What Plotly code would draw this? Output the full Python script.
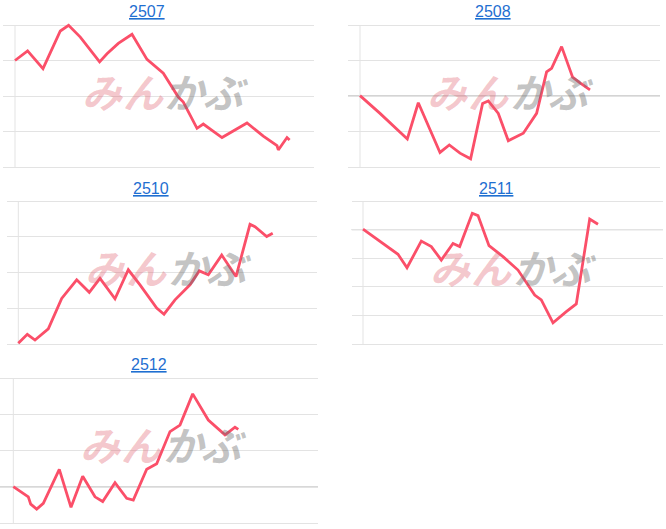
import plotly.graph_objects as go

W, H = 666, 529

# ---- data (time offset from session start, price level in grid units) ----
names = ["2507", "2508", "2510", "2511", "2512"]

t_2507 = [0, 12.6, 28, 45.3, 53.6, 65.3, 84.6, 92, 103.3, 117, 132, 148.3, 163.3, 168.3,
          182, 188.3, 207, 232, 248.3, 262, 263.3, 272, 274.6]
v_2507 = [3.0, 3.27, 2.77, 3.83, 3.99, 3.66, 2.96, 3.19, 3.48, 3.74, 3.03, 2.64, 1.97, 1.83,
          1.09, 1.21, 0.83, 1.24, 0.87, 0.60, 0.48, 0.83, 0.76]

t_2508 = [0, 20, 47.3, 58.3, 80, 89.3, 100, 110.6, 122.6, 128.3, 138.3, 148.3, 163.3, 176.6,
          186.6, 191.6, 201.6, 212.6, 220, 230]
v_2508 = [2.01, 1.51, 0.79, 1.81, 0.41, 0.62, 0.39, 0.23, 1.79, 1.86, 1.51, 0.74, 0.95, 1.51,
          2.68, 2.78, 3.39, 2.53, 2.37, 2.17]

t_2510 = [0, 9, 16.7, 30, 43.4, 58.4, 71, 81.7, 96.7, 110, 121.7, 138.4, 145.7, 156.7, 171.7,
          181, 190, 203.4, 217.7, 231.7, 236.7, 248.4, 254.4]
v_2510 = [0.03, 0.28, 0.12, 0.43, 1.28, 1.80, 1.45, 1.84, 1.27, 2.08, 1.66, 1.01, 0.84, 1.24,
          1.66, 2.05, 1.94, 2.49, 1.89, 3.35, 3.28, 3.01, 3.10]

t_2511 = [0, 20, 35, 44, 58.3, 68.3, 78.3, 90, 96.7, 109.3, 115, 126, 140, 155, 171.7, 178.3,
          190, 203.3, 213.3, 226.7, 235]
v_2511 = [4.02, 3.52, 3.14, 2.67, 3.60, 3.41, 2.94, 3.52, 3.41, 4.57, 4.49, 3.44, 3.06, 2.59,
          1.72, 1.55, 0.75, 1.14, 1.41, 4.37, 4.19]

t_2512 = [0, 15, 17.4, 23.4, 30, 46, 57.7, 69.4, 81.7, 89.4, 101.7, 113.4, 120, 133.4, 143.4,
          156.7, 166.7, 179.4, 195, 211.7, 221.7, 225]
v_2512 = [1.01, 0.73, 0.53, 0.39, 0.55, 1.49, 0.44, 1.30, 0.73, 0.60, 1.12, 0.69, 0.64, 1.49,
          1.64, 2.53, 2.71, 3.57, 2.85, 2.44, 2.65, 2.59]

grid_counts = [4, 4, 4, 5, 4]          # number of grid intervals
prev_close = [3, 2, None, 4, 1]        # level of the darker reference line

series_t = [t_2507, t_2508, t_2510, t_2511, t_2512]
series_v = [v_2507, v_2508, v_2510, v_2511, v_2512]

# ---- layout geometry (pixels) ----
# (grid left, grid right, axis x, grid top, grid bottom, title x, title y)
geom = [
    (3, 314, 15, 25, 167, 147, 12),
    (348, 660, 360, 25, 167, 493, 12),
    (6.7, 316.7, 18.3, 201, 344.3, 151, 188),
    (351.7, 663, 363, 201, 344.3, 496, 188),
    (0, 318, 13.3, 378.3, 523.3, 149, 364),
]

LINE = "#fb4f69"
GRID = "#e3e3e3"
BASE = "#a8a8a8"
PAD = 0.12

fig = go.Figure()
shapes, annotations = [], []
layout = {}

for i, (name, ts, vs, n, base, g) in enumerate(
        zip(names, series_t, series_v, grid_counts, prev_close, geom)):
    gl, gr, ax, gt, gb, tx, ty = g
    k = "" if i == 0 else str(i + 1)
    xa, ya = "x" + k, "y" + k
    s = (gb - gt) / n
    top_px = gt - PAD * s
    bot_px = gb + PAD * s
    layout["xaxis" + k] = dict(
        domain=[gl / W, gr / W], range=[gl - ax, gr - ax], showgrid=False,
        zeroline=False, showticklabels=False, ticks="", showline=False,
        anchor=ya, fixedrange=True)
    layout["yaxis" + k] = dict(
        domain=[max(0, 1 - bot_px / H), 1 - top_px / H],
        range=[-PAD if bot_px <= H else -(H - gb) / s, n + PAD],
        tickvals=list(range(n + 1)), showgrid=True, gridcolor=GRID, gridwidth=1,
        zeroline=False, showticklabels=False, ticks="", showline=False,
        anchor=xa, fixedrange=True)

    fig.add_trace(go.Scatter(x=ts, y=vs, mode="lines", xaxis=xa, yaxis=ya,
                             line=dict(color=LINE, width=2.8), hoverinfo="skip",
                             showlegend=False))

    # vertical axis line
    shapes.append(dict(type="line", xref=xa, yref=ya, x0=0, x1=0, y0=0, y1=n,
                       line=dict(color=GRID, width=1), layer="below"))
    if base is not None:
        shapes.append(dict(type="line", xref=xa + " domain", yref=ya, x0=0, x1=1,
                           y0=base, y1=base, line=dict(color=BASE, width=1),
                           layer="below"))

    # title
    annotations.append(dict(text="<u>" + name + "</u>", xref="paper", yref="paper",
                            x=tx / W, y=1 - ty / H, xanchor="center", yanchor="middle",
                            showarrow=False,
                            font=dict(family="Liberation Sans, Arial", size=16,
                                      color="#1f6fd1")))

    # watermark
    cx = ax + 150
    cy = gt + 66
    chars = ["み", "ん", "か", "ぶ"]
    offs = [-62, -22, 21, 61]
    cols = ["rgba(225,95,110,0.36)", "rgba(225,95,110,0.36)",
            "rgba(110,110,110,0.42)", "rgba(110,110,110,0.42)"]
    for ch, o, c in zip(chars, offs, cols):
        annotations.append(dict(text="<b>" + ch + "</b>", xref="paper", yref="paper",
                                x=(cx + o) / W, y=1 - cy / H,
                                xanchor="center", yanchor="middle", showarrow=False,
                                font=dict(family="Noto Sans CJK JP", size=40,
                                          color=c, weight=900, style="italic")))

fig.update_layout(width=W, height=H, margin=dict(l=0, r=0, t=0, b=0),
                  paper_bgcolor="white", plot_bgcolor="white",
                  shapes=shapes, annotations=annotations, **layout)

fig.write_html("out.html", config={"displayModeBar": False},
               post_script="document.body.style.margin='0';"
                           "document.body.style.overflow='hidden';")
